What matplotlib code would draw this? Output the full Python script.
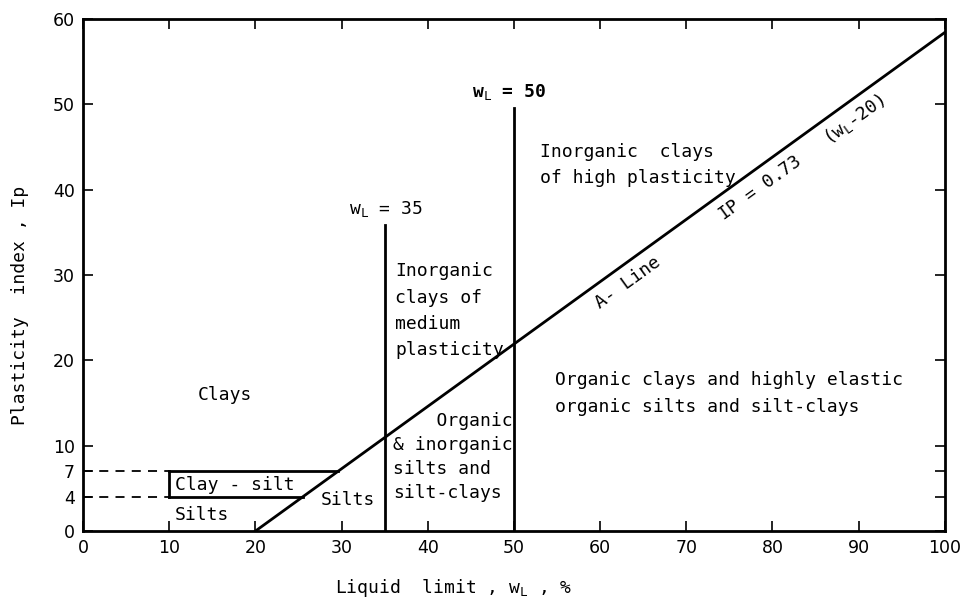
import matplotlib.pyplot as plt
import numpy as np

# A-line: Ip = 0.73 (wL - 20)
a_slope = 0.73
a_start = 20
wl_ends = [20, 100]

# vertical boundaries (x, top)
wl_lines = [35, 50]
wl_tops = [35.9, 49.6]

# clay-silt band
band_low, band_high = 4, 7
band_left = 10

xticks = [0, 10, 20, 30, 40, 50, 60, 70, 80, 90, 100]
yticks = [0, 4, 7, 10, 20, 30, 40, 50, 60]

plt.rcParams['mathtext.fontset'] = 'custom'
plt.rcParams['mathtext.rm'] = 'DejaVu Sans Mono'
plt.rcParams['mathtext.bf'] = 'DejaVu Sans Mono:bold'
mono = 'DejaVu Sans Mono'

fig = plt.figure(figsize=(9.65, 6.07), dpi=100)
ax = fig.add_axes([0.086, 0.125, 0.893, 0.844])
ax.set_xlim(0, 100)
ax.set_ylim(0, 60)

lw = 2.0
k = 'black'

# A-line
wl = np.array(wl_ends)
ax.plot(wl, a_slope * (wl - a_start), color=k, lw=lw)

# vertical lines
for x, top in zip(wl_lines, wl_tops):
    ax.plot([x, x], [0, top], color=k, lw=lw)

# clay-silt box bounded by the A-line
x_hi = a_start + band_high / a_slope
x_lo = a_start + band_low / a_slope
ax.plot([band_left, x_hi], [band_high, band_high], color=k, lw=lw)
ax.plot([band_left, x_lo], [band_low, band_low], color=k, lw=lw)
ax.plot([band_left, band_left], [band_low, band_high], color=k, lw=lw)

# dashed guides
for y in [band_low, band_high]:
    ax.plot([0, band_left], [y, y], color=k, lw=1.3, ls=(0, (5, 4)))

fs = 13
kw = dict(fontsize=fs, family=mono, va='center')
ax.text(49.4, 51.4, r'w$_{\mathrm{L}}$ = 50', ha='center', fontweight='bold', **kw)
ax.text(35.2, 37.7, r'w$_{\mathrm{L}}$ = 35', ha='center', **kw)
ax.text(53.0, 42.9, 'Inorganic  clays\nof high plasticity', ha='left', linespacing=1.6, **kw)
ax.text(36.2, 25.8, 'Inorganic\nclays of\nmedium\nplasticity', ha='left', linespacing=1.6, **kw)
ax.text(16.5, 16, 'Clays', ha='center', **kw)
ax.text(54.8, 16.1, 'Organic clays and highly elastic\norganic silts and silt-clays',
        ha='left', linespacing=1.65, **kw)
ax.text(36.0, 8.7, '    Organic\n& inorganic\nsilts and\nsilt-clays', ha='left', linespacing=1.42, **kw)
ax.text(10.7, 5.4, 'Clay - silt', ha='left', **kw)
ax.text(10.7, 1.9, 'Silts', ha='left', **kw)
ax.text(27.6, 3.6, 'Silts', ha='left', **kw)

ang = 35.8
ax.text(63.2, 29.1, 'A- Line', rotation=ang, ha='center', rotation_mode='anchor', **kw)
ax.text(83.4, 43.8, r'IP = 0.73   (w$_{\mathrm{L}}$-20)', rotation=ang, ha='center',
        rotation_mode='anchor', **kw)

ax.set_xticks(xticks)
ax.set_yticks(yticks)
ax.tick_params(direction='in', length=7, width=1.2, top=True, right=True, labelsize=12.5, pad=6)
for s in ax.spines.values():
    s.set_linewidth(2)

ax.set_xlabel(r'Liquid  limit , w$_{\mathrm{L}}$ , %', fontsize=fs, family=mono)
ax.set_ylabel('Plasticity  index , Ip', fontsize=fs, family=mono)
ax.xaxis.set_label_coords(0.43, -0.09)
ax.yaxis.set_label_coords(-0.063, 0.44)

fig.savefig('out.png', dpi=100)
